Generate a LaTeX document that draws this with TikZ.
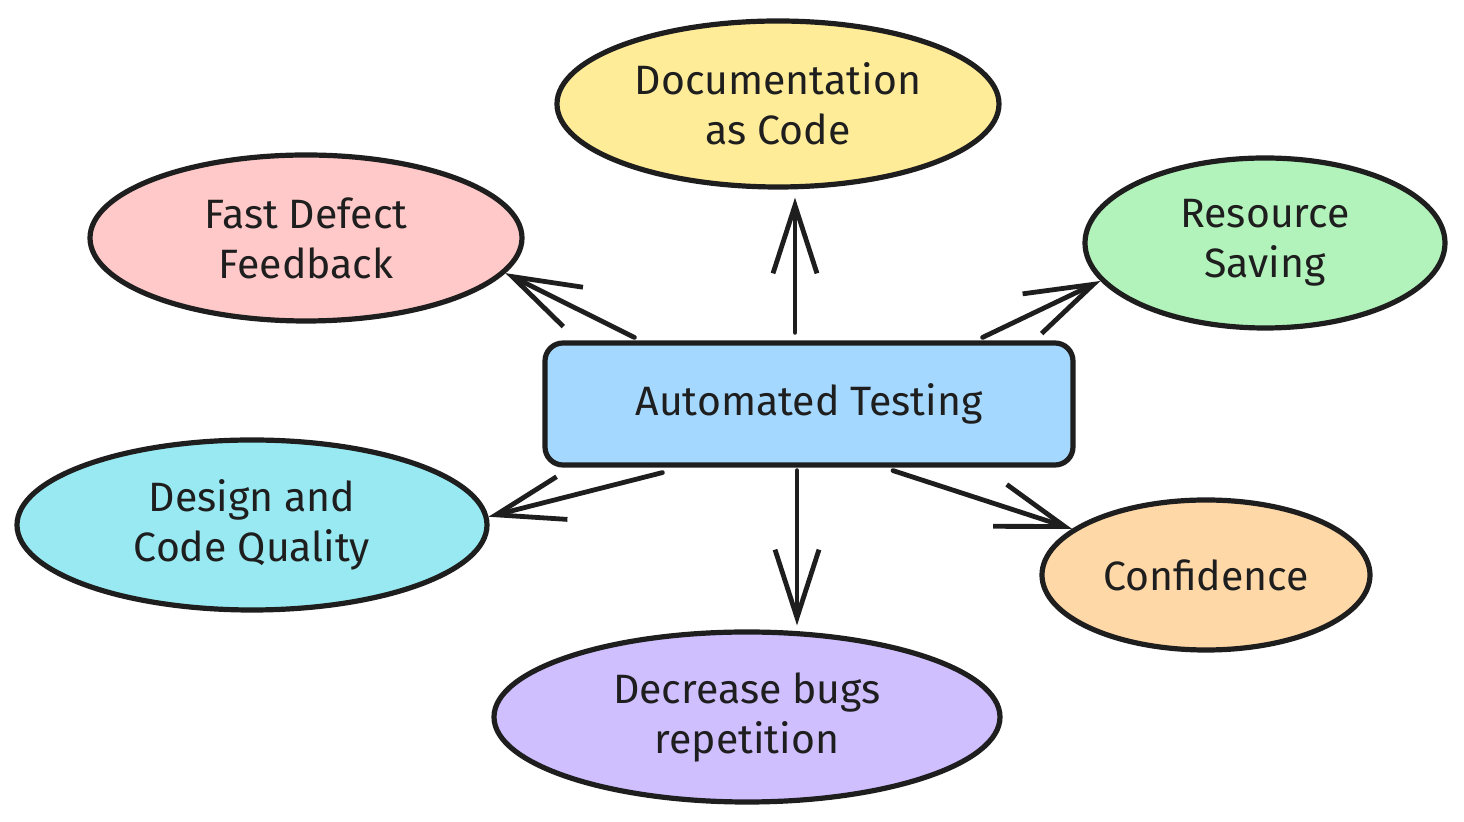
\documentclass[tikz,border=0pt]{standalone}
\usepackage{fontspec}
\setmainfont{Fira Sans}
\usetikzlibrary{shapes.geometric,arrows.meta}
\definecolor{ink}{HTML}{1E1E1E}
\definecolor{cyellow}{HTML}{FFEC99}
\definecolor{cpink}{HTML}{FFC9C9}
\definecolor{cgreen}{HTML}{B2F2BB}
\definecolor{cblue}{HTML}{A5D8FF}
\definecolor{ccyan}{HTML}{99E9F2}
\definecolor{corange}{HTML}{FFD8A8}
\definecolor{cpurple}{HTML}{D0BFFF}
\tikzset{
  bubble/.style={ellipse, draw=ink, line width=2.6pt, inner sep=0pt, align=center,
    text=ink, font=\fontsize{20.5}{25}\selectfont},
  hub/.style={rectangle, rounded corners=9pt, draw=ink, line width=2.6pt, inner sep=0pt,
    align=center, text=ink, font=\fontsize{20.5}{25}\selectfont,
    minimum width=264pt, minimum height=61pt, fill=cblue},
  arr/.style={draw=ink, line width=2.4pt, line cap=round, line join=round,
    -{Straight Barb[length=34pt,width=22pt,line width=2.4pt]}}
}
\begin{document}
\begin{tikzpicture}[x=0.5pt,y=-0.5pt]
\useasboundingbox (0,0) rectangle (1464,822);
\node[hub] (auto) at (809,404) {Automated Testing};
\node[bubble, fill=cyellow, minimum width=221pt, minimum height=83pt] (doc) at (778,104) {Documentation\\as Code};
\node[bubble, fill=cpink, minimum width=216pt, minimum height=83pt] (fast) at (306,238) {Fast Defect\\Feedback};
\node[bubble, fill=cgreen, minimum width=180pt, minimum height=85pt] (res) at (1265,243) {Resource\\Saving};
\node[bubble, fill=ccyan, minimum width=235pt, minimum height=85pt] (des) at (252,525) {Design and\\Code Quality};
\node[bubble, fill=corange, minimum width=164pt, minimum height=75pt] (conf) at (1206,575) {Confidence};
\node[bubble, fill=cpurple, minimum width=253pt, minimum height=85pt] (dec) at (747,717) {Decrease bugs\\repetition};
\draw[arr] ([shift={(-7pt,4pt)}]auto.north) -- ([shift={(8.5pt,-4pt)}]doc.south);
\draw[arr] ([shift={(46pt,1.5pt)}]auto.north west) -- (fast.-10);
\draw[arr] ([shift={(-46.5pt,1.5pt)}]auto.north east) -- (res.193);
\draw[arr] ([shift={(60pt,-2.5pt)}]auto.south west) -- (des.2);
\draw[arr] ([shift={(-6pt,-1.5pt)}]auto.south) -- ([shift={(25pt,2pt)}]dec.north);
\draw[arr] ([shift={(42pt,-1.5pt)}]auto.south) -- (conf.161);
\end{tikzpicture}
\end{document}
